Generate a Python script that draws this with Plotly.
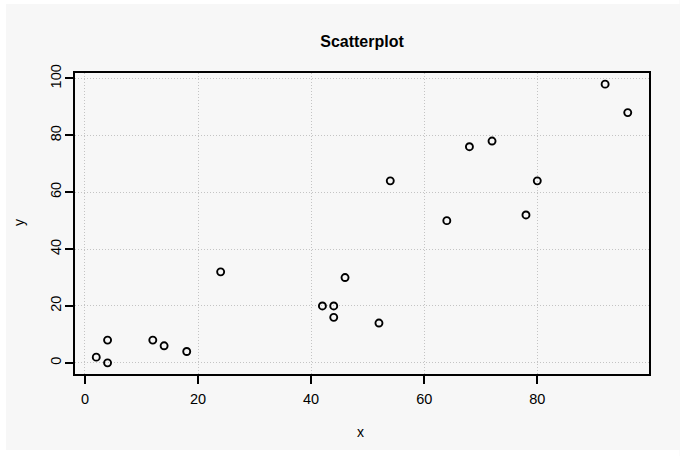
import plotly.graph_objects as go

# Data
x_values = [2, 4, 4, 12, 14, 18, 24, 42, 44, 44, 46, 52, 54, 64, 68, 72, 78, 80, 92, 96]
y_values = [2, 8, 0, 8, 6, 4, 32, 20, 20, 16, 30, 14, 64, 50, 76, 78, 52, 64, 98, 88]
x_ticks = [0, 20, 40, 60, 80]
y_ticks = [0, 20, 40, 60, 80, 100]
title_text = "Scatterplot"
x_label = "x"
y_label = "y"

W, H = 680, 456
L, R, T, B = 75, 30.5, 73, 82
pw = W - L - R
ph = H - T - B


def px_x(p):
    return (p - L) / pw


def px_y(p):
    return (H - B - p) / ph


# R-style 4% range extension
def ext(vals):
    lo, hi = min(vals), max(vals)
    d = (hi - lo) * 0.04
    return [lo - d, hi + d]


font_family = "Liberation Sans, Arial, sans-serif"
bg = "#f7f7f7"

fig = go.Figure()
fig.add_trace(go.Scatter(
    x=x_values, y=y_values, mode="markers",
    marker=dict(symbol="circle-open", size=7, color="black",
                line=dict(width=1.9, color="black")),
    showlegend=False, hoverinfo="x+y",
))

axis_common = dict(
    showline=True, linecolor="black", linewidth=1.5, mirror=True,
    ticks="outside", ticklen=8, tickwidth=1.5, tickcolor="black",
    showgrid=True, gridcolor="#c4c4c4", griddash="1px,2px", gridwidth=1,
    zeroline=False,
    tickfont=dict(family=font_family, size=14.5, color="black"),
)

fig.update_xaxes(range=ext(x_values), tickmode="array", tickvals=x_ticks,
                 ticktext=[str(v) for v in x_ticks], ticklabelstandoff=3,
                 **axis_common)
fig.update_yaxes(range=ext(y_values), tickmode="array", tickvals=y_ticks,
                 ticktext=[str(v) for v in y_ticks], tickangle=-90,
                 ticklabelstandoff=-2, **axis_common)

# white outer border strips (the grey panel starts a few px in)
strips = [
    (0, 0, 6, H),      # left
    (0, 0, W, 4),      # top
    (0, 450, W, H),    # bottom
]
shapes = []
for x0, y0, x1, y1 in strips:
    shapes.append(dict(type="rect", xref="paper", yref="paper",
                       x0=px_x(x0), x1=px_x(x1), y0=px_y(y1), y1=px_y(y0),
                       fillcolor="white", line=dict(width=0), layer="above"))

annotations = [
    dict(text=x_label, xref="paper", yref="paper", x=px_x(361), y=px_y(432),
         xanchor="center", yanchor="middle", showarrow=False,
         font=dict(family=font_family, size=14, color="black")),
    dict(text=y_label, xref="paper", yref="paper", x=px_x(19), y=px_y(223),
         xanchor="center", yanchor="middle", showarrow=False, textangle=-90,
         font=dict(family=font_family, size=14, color="black")),
]

fig.update_layout(
    width=W, height=H,
    margin=dict(l=L, r=R, t=T, b=B, pad=0),
    paper_bgcolor=bg, plot_bgcolor=bg,
    title=dict(text="<b>" + title_text + "</b>", x=0.5, xref="paper",
               xanchor="center", y=1 - 41 / H, yref="container",
               yanchor="middle",
               font=dict(family=font_family, size=16, color="black")),
    shapes=shapes, annotations=annotations,
)

fig.write_html("out.html")
